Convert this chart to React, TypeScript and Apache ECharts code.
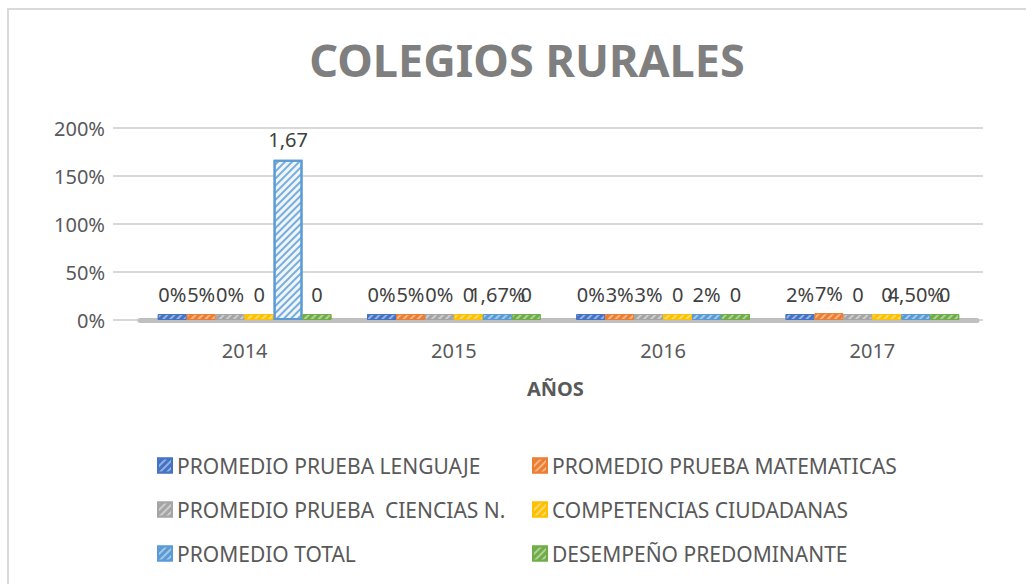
import React, { useEffect, useRef } from "react";
import * as echarts from "echarts";

const categories = ["2014", "2015", "2016", "2017"];
const yTicks = [0, 0.5, 1, 1.5, 2];

const seriesNames = [
  "PROMEDIO PRUEBA LENGUAJE",
  "PROMEDIO PRUEBA MATEMATICAS",
  "PROMEDIO PRUEBA  CIENCIAS N.",
  "COMPETENCIAS CIUDADANAS",
  "PROMEDIO TOTAL",
  "DESEMPEÑO PREDOMINANTE",
];

const lenguaje = [0, 0, 0, 0.02];
const matematicas = [0.05, 0.05, 0.03, 0.07];
const ciencias = [0, 0, 0.03, 0];
const competencias = [0, 0, 0, 0];
const total = [1.67, 0.0167, 0.02, 0.045];
const desempeno = [0, 0, 0, 0];

const lenguajeLabels = ["0%", "0%", "0%", "2%"];
const matematicasLabels = ["5%", "5%", "3%", "7%"];
const cienciasLabels = ["0%", "0%", "3%", "0"];
const competenciasLabels = ["0", "0", "0", "0"];
const totalLabels = ["1,67", "1,67%", "2%", "4,50%"];
const desempenoLabels = ["0", "0", "0", "0"];

const colors = ["#4472C4", "#ED7D31", "#A5A5A5", "#FFC000", "#5B9BD5", "#70AD47"];

const FONT = "'Noto Sans', sans-serif";

export default function App() {
  const ref = useRef<HTMLDivElement>(null);
  useEffect(() => {
    if (!ref.current) return;
    const chart = echarts.init(ref.current, undefined, { renderer: "svg" });
    const values = [lenguaje, matematicas, ciencias, competencias, total, desempeno];
    const labels = [
      lenguajeLabels,
      matematicasLabels,
      cienciasLabels,
      competenciasLabels,
      totalLabels,
      desempenoLabels,
    ];
    const decal = (c: string) => ({
      symbol: "rect",
      symbolSize: 1,
      color: c,
      dashArrayX: [1, 0],
      dashArrayY: [2, 3],
      rotation: -Math.PI / 4,
    });
    const series = seriesNames.map((name, si) => ({
      name,
      type: "bar",
      xAxisIndex: 1,
      yAxisIndex: 1,
      barGap: "0%",
      barCategoryGap: "17%",
      barMinHeight: 6,
      data: values[si].map((v, i) => {
        const item: any = { value: v };
        if (si === 4 && i === 0) {
          item.itemStyle = {
            color: "#eef5fb",
            borderColor: "#5B9BD5",
            borderWidth: 2,
            decal: decal("rgba(91,155,213,0.8)"),
          };
        }
        return item;
      }),
      itemStyle: {
        color: colors[si],
        borderColor: colors[si],
        borderWidth: 1,
        decal: decal("rgba(255,255,255,0.45)"),
      },
      label: {
        show: true,
        position: "top",
        distance: 10,
        fontFamily: FONT,
        fontSize: 20,
        color: "#404040",
        formatter: (p: any) => labels[si][p.dataIndex],
      },
    }));

    chart.setOption({
      animation: false,
      backgroundColor: "#ffffff",
      title: {
        text: "COLEGIOS RURALES",
        left: 522,
        top: 32,
        textAlign: "center",
        textStyle: {
          fontFamily: FONT,
          fontSize: 45,
          fontWeight: "bold",
          color: "#7f7f7f",
        },
      },
      graphic: [
        { type: "line", shape: { x1: 7, y1: 9, x2: 1026, y2: 9 }, style: { stroke: "#d9d9d9", lineWidth: 2 } },
        { type: "line", shape: { x1: 8, y1: 8, x2: 8, y2: 584 }, style: { stroke: "#d9d9d9", lineWidth: 2 } },
        {
          type: "text",
          left: 527,
          top: 378,
          style: { text: "AÑOS", fontFamily: FONT, fontSize: 20, fontWeight: "bold", fill: "#595959" },
        },
      ],
      legend: [
        {
          left: 152,
          top: 450,
          orient: "vertical",
          itemGap: 23,
          itemWidth: 14,
          itemHeight: 14,
          icon: "rect",
          data: [seriesNames[0], seriesNames[2], seriesNames[4]],
          textStyle: { fontFamily: FONT, fontSize: 21, color: "#595959" },
        },
        {
          left: 527,
          top: 450,
          orient: "vertical",
          itemGap: 23,
          itemWidth: 14,
          itemHeight: 14,
          icon: "rect",
          data: [seriesNames[1], seriesNames[3], seriesNames[5]],
          textStyle: { fontFamily: FONT, fontSize: 21, color: "#595959" },
        },
      ],
      grid: [
        { left: 113, right: 43, top: 128, bottom: 264 },
        { left: 140, right: 49, top: 128, bottom: 264 },
      ],
      xAxis: [
        { gridIndex: 0, type: "value", show: false, min: 0, max: 1 },
        {
          gridIndex: 1,
          type: "category",
          data: categories,
          axisTick: { show: false },
          axisLine: { show: true, lineStyle: { color: "#bfbfbf", width: 5 } },
          axisLabel: { fontFamily: FONT, fontSize: 20, color: "#595959", margin: 20 },
        },
      ],
      yAxis: [
        {
          gridIndex: 0,
          type: "value",
          min: yTicks[0],
          max: yTicks[yTicks.length - 1],
          interval: 0.5,
          axisLine: { show: false },
          axisTick: { show: false },
          splitLine: { lineStyle: { color: "#d9d9d9", width: 2 } },
          axisLabel: {
            fontFamily: FONT,
            fontSize: 20,
            color: "#595959",
            margin: 8,
            formatter: (v: number) => Math.round(v * 100) + "%",
          },
        },
        {
          gridIndex: 1,
          type: "value",
          min: yTicks[0],
          max: yTicks[yTicks.length - 1],
          interval: 0.5,
          show: false,
          splitLine: { show: false },
        },
      ],
      series,
    });
    return () => chart.dispose();
  }, []);
  return (
    <div
      ref={ref}
      style={{ position: "fixed", left: 0, top: 0, width: 1026, height: 584 }}
    />
  );
}
